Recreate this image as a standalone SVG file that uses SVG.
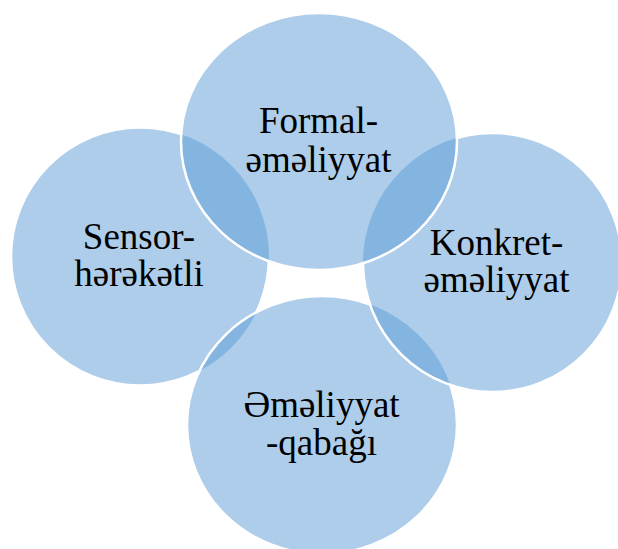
<svg xmlns="http://www.w3.org/2000/svg" xmlns:xlink="http://www.w3.org/1999/xlink" width="618" height="549" viewBox="0 0 618 549">
  <style>
    .fill { fill: #5B9BD5; fill-opacity: 0.5; stroke: none; }
    .edge { fill: none; stroke: #FFFFFF; stroke-width: 2.5; }
    text { font-family: 'Liberation Serif', 'DejaVu Serif', serif; font-size: 37px; fill: #000000; text-anchor: middle; }
  </style>
  <defs>
    <ellipse id="eL" cx="140" cy="256.5" rx="129" ry="129"/>
    <ellipse id="eB" cx="322" cy="425" rx="135" ry="129"/>
    <ellipse id="eR" cx="492.5" cy="262.5" rx="129.5" ry="129.5"/>
    <ellipse id="eT" cx="319" cy="141.5" rx="138" ry="128.5"/>
    <mask id="mL" maskUnits="userSpaceOnUse" x="0" y="0" width="618" height="549">
      <rect x="0" y="0" width="618" height="549" fill="#FFFFFF"/>
      <use xlink:href="#eT" fill="#000000"/>
      <use xlink:href="#eB" fill="#000000"/>
    </mask>
    <mask id="mB" maskUnits="userSpaceOnUse" x="0" y="0" width="618" height="549">
      <rect x="0" y="0" width="618" height="549" fill="#FFFFFF"/>
      <use xlink:href="#eR" fill="#000000"/>
    </mask>
    <mask id="mR" maskUnits="userSpaceOnUse" x="0" y="0" width="618" height="549">
      <rect x="0" y="0" width="618" height="549" fill="#FFFFFF"/>
      <use xlink:href="#eT" fill="#000000"/>
    </mask>
  </defs>
  <g id="connectors"></g>
  <g id="node-sensor">
    <use xlink:href="#eL" class="fill"/>
    <use xlink:href="#eL" class="edge" mask="url(#mL)"/>
    <text x="139" y="249" font-family="Liberation Serif, serif">Sensor-</text>
    <text x="139" y="286" font-family="Liberation Serif, serif">hərəkətli</text>
  </g>
  <g id="node-emeliyyat-qabagi">
    <use xlink:href="#eB" class="fill"/>
    <use xlink:href="#eB" class="edge" mask="url(#mB)"/>
    <text x="321.5" y="417" font-family="Liberation Serif, serif">Əməliyyat</text>
    <text x="321.5" y="455" font-family="Liberation Serif, serif">-qabağı</text>
  </g>
  <g id="node-konkret">
    <use xlink:href="#eR" class="fill"/>
    <use xlink:href="#eR" class="edge" mask="url(#mR)"/>
    <text x="496.5" y="255" font-family="Liberation Serif, serif">Konkret-</text>
    <text x="496.5" y="292" font-family="Liberation Serif, serif">əməliyyat</text>
  </g>
  <g id="node-formal">
    <use xlink:href="#eT" class="fill"/>
    <use xlink:href="#eT" class="edge"/>
    <text x="318.5" y="133" font-family="Liberation Serif, serif">Formal-</text>
    <text x="318.5" y="172" font-family="Liberation Serif, serif">əməliyyat</text>
  </g>
</svg>
